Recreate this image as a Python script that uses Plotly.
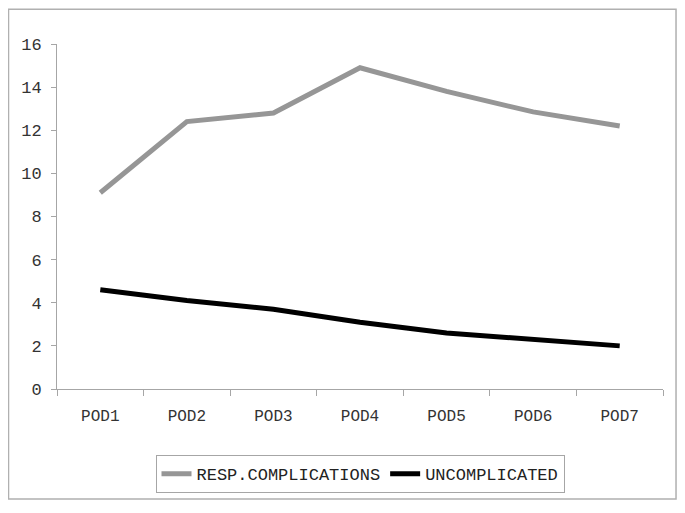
import plotly.graph_objects as go

# データ
days = ['POD1', 'POD2', 'POD3', 'POD4', 'POD5', 'POD6', 'POD7']
resp_complications = [9.1, 12.4, 12.8, 14.9, 13.8, 12.85, 12.2]
uncomplicated = [4.6, 4.1, 3.7, 3.1, 2.6, 2.3, 2.0]

FONT = "Courier New, Courier, Nimbus Mono PS, FreeMono, Liberation Mono, monospace"
AXIS_GREY = '#a6a6a6'

fig = go.Figure()
fig.add_trace(go.Scatter(x=days, y=resp_complications, mode='lines', name='RESP.COMPLICATIONS',
                         line=dict(color='#969696', width=5)))
fig.add_trace(go.Scatter(x=days, y=uncomplicated, mode='lines', name='UNCOMPLICATED',
                         line=dict(color='#000000', width=5)))

# 外枠 (ページ余白 8px 分ずらしてある)
fig.add_shape(type='rect', xref='paper', yref='paper', x0=-0.0800, x1=1.0215, y0=-0.319, y1=1.1006,
              line=dict(color='#b0b0b0', width=1.5), layer='below')

fig.update_layout(
    width=669, height=497,
    margin=dict(l=49, r=14, t=36, b=113),
    paper_bgcolor='white', plot_bgcolor='white',
    font=dict(family=FONT, size=17, color='#333333'),
    showlegend=True,
    legend=dict(orientation='h', x=0.5, xanchor='center', y=-0.247, yanchor='middle',
                bordercolor=AXIS_GREY, borderwidth=1, font=dict(size=17, color='#222222'),
                itemwidth=30),
    xaxis=dict(type='category', range=[-0.5, 6.5], showgrid=False, zeroline=False,
               showline=True, linecolor=AXIS_GREY, linewidth=1,
               ticks='outside', tickson='boundaries', ticklen=6, tickcolor=AXIS_GREY,
               tickfont=dict(size=16), ticklabelstandoff=12),
    yaxis=dict(range=[0, 16], dtick=2, showgrid=False, zeroline=False,
               showline=True, linecolor=AXIS_GREY, linewidth=1,
               ticks='outside', ticklen=5, tickcolor=AXIS_GREY,
               tickfont=dict(size=17), ticklabelstandoff=6),
)

fig.write_html("out.html")
